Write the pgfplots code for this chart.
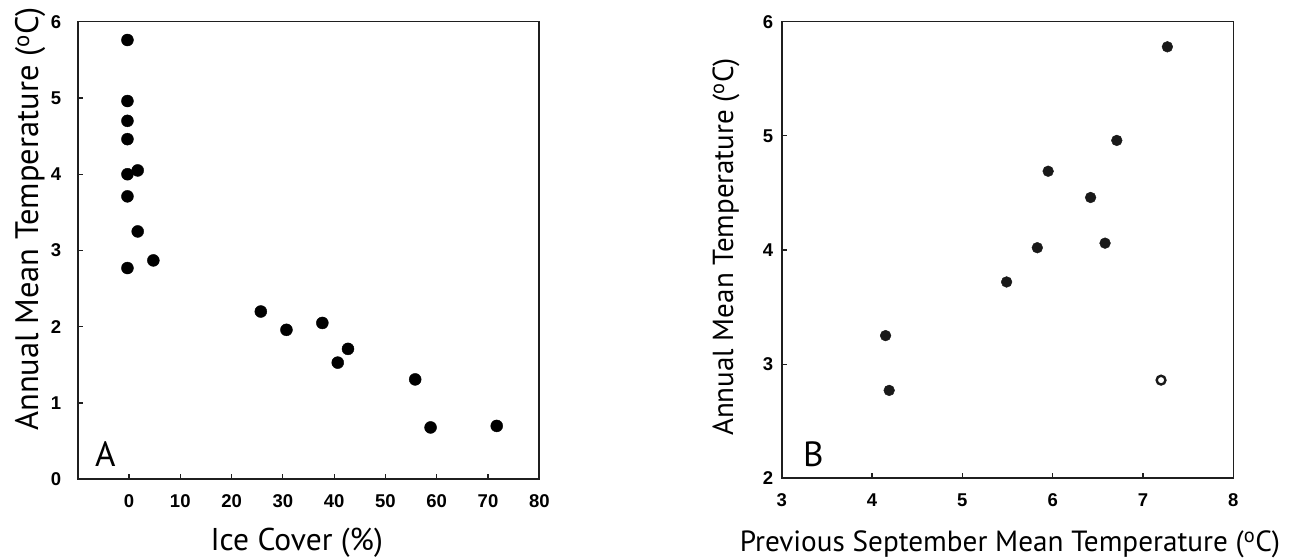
\documentclass[border=0pt]{standalone}
\usepackage{fontspec}
\setmainfont{PT Sans}
\newfontfamily\tickfont{Liberation Sans}
\usepackage{pgfplots}
\pgfplotsset{compat=1.18}

\pgfplotsset{
  panel/.style={
    scale only axis,
    axis line style={line width=1.6bp, black!88},
    tick style={line width=1.2bp, black!88},
    tick align=inside,
    major tick length=5bp,
    xtick pos=left, ytick pos=left,
    ticklabel style={font=\fontsize{18.5bp}{20bp}\tickfont\bfseries},
    /pgf/number format/assume math mode=true,
    anchor=south west,
    clip=false,
  },
}

\begin{document}
\begin{tikzpicture}
\useasboundingbox (0,0) rectangle (1304bp,559bp);

% panel A
\begin{axis}[panel,
  at={(77.7bp,79.7bp)}, width=461.6bp, height=457.6bp,
  xmin=-10, xmax=80, ymin=0, ymax=6,
  xtick={0,10,...,80}, ytick={0,1,...,6},
  yticklabel style={xshift=-13bp},
  xticklabel style={yshift=-12bp},
]
\addplot[only marks, mark=*, mark size=6bp, black] table {
x y
-0.3 5.76
-0.3 4.96
-0.3 4.70
-0.3 4.46
-0.3 4.00
1.7 4.05
-0.3 3.71
1.7 3.25
4.75 2.87
-0.3 2.77
25.7 2.20
30.7 1.96
37.7 2.05
42.7 1.71
40.7 1.53
55.8 1.31
58.8 0.68
71.7 0.70
};
\end{axis}

% panel B
\begin{axis}[panel,
  at={(781.7bp,80.7bp)}, width=451.6bp, height=456.6bp,
  xmin=3, xmax=8, ymin=2, ymax=6,
  xtick={3,...,8}, ytick={2,...,6},
  yticklabel style={xshift=-5bp},
  xticklabel style={yshift=-12bp},
]
\addplot[only marks, mark=*, mark size=5.4bp, black!90] table {
x y
7.27 5.78
6.71 4.96
5.95 4.69
6.42 4.46
6.58 4.06
5.83 4.02
5.49 3.72
4.15 3.25
4.19 2.77
};
\addplot[only marks, mark=o, mark size=4.4bp, black!90,
  mark options={line width=2.4bp}] table {
x y
7.20 2.86
};
\end{axis}

\node[rotate=90, anchor=base, inner sep=0, font=\fontsize{32.5bp}{36bp}\selectfont]
  at (38bp,340bp) {Annual Mean Temperature (\textsuperscript{o}C)};
\node[rotate=90, anchor=base, inner sep=0, font=\fontsize{29bp}{33bp}\selectfont]
  at (733bp,312bp) {Annual Mean Temperature (\textsuperscript{o}C)};
\node[anchor=base, inner sep=0, font=\fontsize{31.5bp}{35bp}\selectfont]
  at (296.7bp,8.5bp) {Ice Cover (\%)};
\node[anchor=base, inner sep=0, font=\fontsize{29.2bp}{33bp}\selectfont]
  at (1010bp,8bp) {Previous September Mean Temperature (\textsuperscript{o}C)};
\node[anchor=base west, inner sep=0, font=\fontsize{35bp}{40bp}\selectfont]
  at (95bp,92.3bp) {A};
\node[anchor=base west, inner sep=0, font=\fontsize{35bp}{40bp}\selectfont]
  at (803bp,92.3bp) {B};
\end{tikzpicture}
\end{document}
